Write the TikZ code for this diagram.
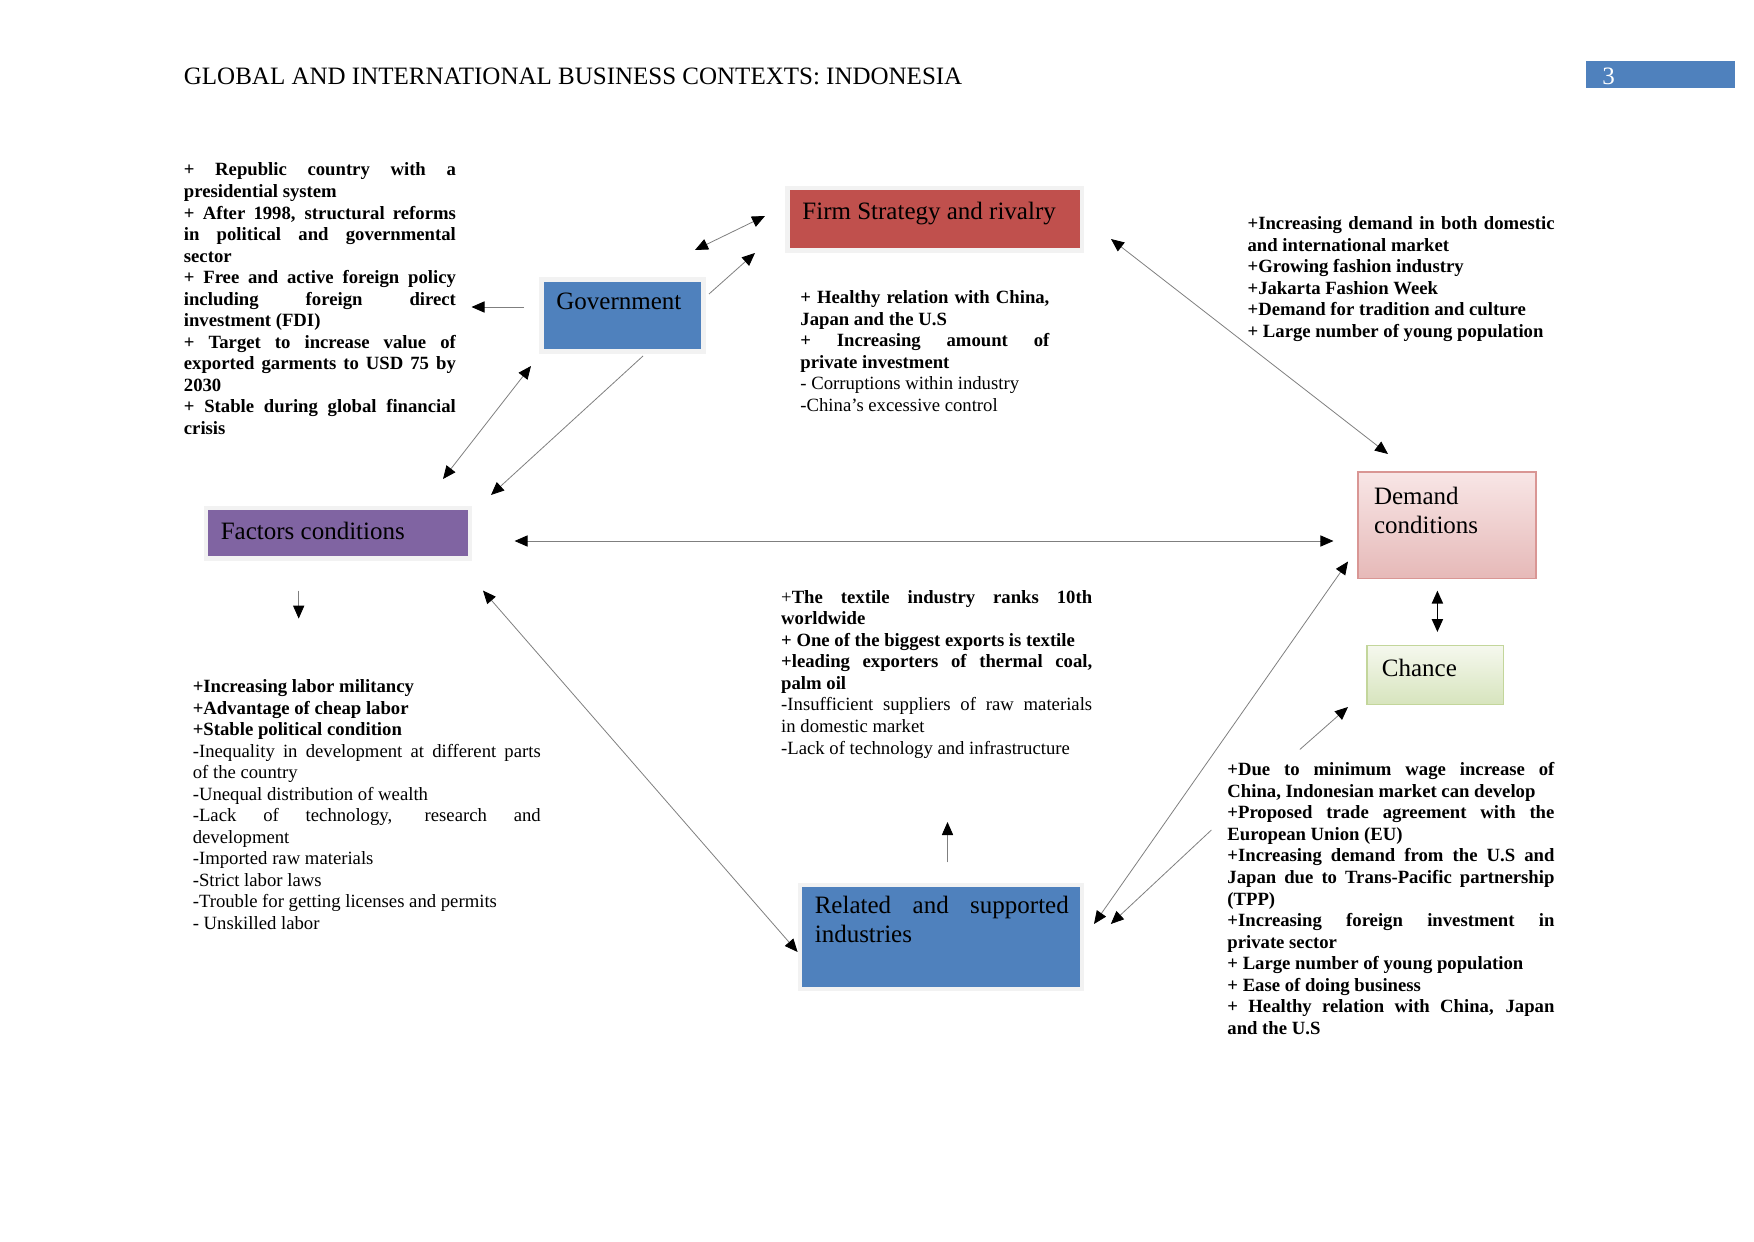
\documentclass[tikz,border=0pt]{standalone}
\usepackage{fontspec}
\setmainfont{Liberation Serif}
\usetikzlibrary{arrows.meta}
\definecolor{boxblue}{HTML}{4F81BD}
\definecolor{boxred}{HTML}{C0504D}
\definecolor{boxpurple}{HTML}{8064A2}
\definecolor{glowgray}{HTML}{F2F2F2}
\definecolor{pinkedge}{HTML}{D99694}
\definecolor{pinktop}{HTML}{F8E6E6}
\definecolor{pinkbot}{HTML}{E6B9B8}
\definecolor{greenedge}{HTML}{C3D69B}
\definecolor{greentop}{HTML}{F5F8EE}
\definecolor{greenbot}{HTML}{D7E4BD}
\definecolor{linkgray}{HTML}{7F7F7F}
\newcommand{\boxfont}{\fontsize{12.5}{14.5}\selectfont}
\newcommand{\notefont}{\fontsize{9.35}{10.77}\selectfont}
\hyphenpenalty=10000
\exhyphenpenalty=10000
\tikzset{
  glowbox/.style={rectangle, draw=glowgray, line width=2.25pt, inner sep=0pt},
  title/.style={anchor=north west, inner sep=0pt, font=\boxfont},
  note/.style={anchor=north west, inner sep=0pt, font=\notefont, align=justify},
  link/.style={draw=linkgray, line width=0.4pt, -{Triangle[length=6.5pt,width=5.6pt,color=black]}},
  twolink/.style={draw=linkgray, line width=0.4pt, {Triangle[length=6.5pt,width=5.6pt,color=black]}-{Triangle[length=6.5pt,width=5.6pt,color=black]}}
}
\begin{document}
\begin{tikzpicture}[x=0.5pt,y=-0.5pt]
\useasboundingbox (0,0) rectangle (1754,1241);
% running head
\node[anchor=base west, inner sep=0pt, font=\boxfont] (header) at (183.5,84.5) {GLOBAL AND INTERNATIONAL BUSINESS CONTEXTS: INDONESIA};
\fill[boxblue] (1586,61.5) rectangle (1735,88.4);
\node[anchor=base west, inner sep=0pt, font=\boxfont, text=white] (pagenum) at (1602,84.5) {3};

% diamond boxes
\node[glowbox, fill=boxred, minimum width=147.2pt, minimum height=31.3pt] (firm) at (934.6,219.25) {};
\node[title] (firmtitle) at (802,201.5) {Firm Strategy and rivalry};
\node[glowbox, fill=boxblue, minimum width=81.2pt, minimum height=35.8pt] (gov) at (622.5,315.45) {};
\node[title] (govtitle) at (556,292.5) {Government};
\node[glowbox, fill=boxpurple, minimum width=132pt, minimum height=25.25pt] (fac) at (337.8,533) {};
\node[title] (factitle) at (220.4,522.2) {Factors conditions};
\node[glowbox, fill=boxblue, minimum width=141pt, minimum height=52pt] (rel) at (940.75,936.8) {};
\node[title, text width=127pt, align=justify] (reltitle) at (814.4,896.2) {Related and supported \linebreak industries};
\node[rectangle, draw=pinkedge, line width=0.75pt, top color=pinktop, bottom color=pinkbot, minimum width=88.9pt, minimum height=53.2pt] (dem) at (1446.9,525.15) {};
\node[title, align=left] (demtitle) at (1373.6,486.7) {Demand\\conditions};
\node[rectangle, draw=greenedge, line width=0.75pt, top color=greentop, bottom color=greenbot, minimum width=68.2pt, minimum height=29.65pt] (chance) at (1435.2,675) {};
\node[title] (chancetitle) at (1381.5,659) {Chance};

% notes
\node[note, text width=136pt] (govnotes) at (183.5,162.6) {\bfseries
+ Republic country with a \linebreak presidential system\par
+ After 1998, structural reforms \linebreak in political and governmental \linebreak sector\par
+ Free and active foreign policy \linebreak including foreign direct \linebreak investment (FDI)\par
+ Target to increase value of \linebreak exported garments to USD 75 by \linebreak 2030\par
+ Stable during global financial \linebreak crisis};
\node[note, text width=124.5pt] (firmnotes) at (800,290.2) {\bfseries
+ Healthy relation with China, \linebreak Japan and the U.S\par
+ Increasing amount of \linebreak private investment\par
\mdseries - Corruptions within industry\par
-China’s excessive control};
\node[note, text width=153.5pt] (demnotes) at (1247.2,216.2) {\bfseries
+Increasing demand in both domestic \linebreak and international market\par
+Growing fashion industry\par
+Jakarta Fashion Week\par
+Demand for tradition and culture\par
+ Large number of young population};
\node[note, text width=155.5pt] (relnotes) at (780.8,589.9) {+\textbf{The textile industry ranks 10th} \linebreak \textbf{worldwide}\par
\bfseries + One of the biggest exports is textile\par
+leading exporters of thermal coal, \linebreak palm oil\par
\mdseries -Insufficient suppliers of raw materials \linebreak in domestic market\par
-Lack of technology and infrastructure};
\node[note, text width=174pt] (facnotes) at (192.4,679.2) {\bfseries
+Increasing labor militancy\par
+Advantage of cheap labor\par
+Stable political condition\par
\mdseries -Inequality in development at different parts \linebreak of the country\par
-Unequal distribution of wealth\par
-Lack of technology, research and \linebreak development\par
-Imported raw materials\par
-Strict labor laws\par
-Trouble for getting licenses and permits\par
- Unskilled labor};
\node[note, text width=163.5pt] (chancenotes) at (1227,762.2) {\bfseries
+Due to minimum wage increase of \linebreak China, Indonesian market can develop\par
+Proposed trade agreement with the \linebreak European Union (EU)\par
+Increasing demand from the U.S and \linebreak Japan due to Trans-Pacific partnership \linebreak (TPP)\par
+Increasing foreign investment in \linebreak private sector\par
+ Large number of young population\par
+ Ease of doing business\par
+ Healthy relation with China, Japan \linebreak and the U.S};

% connector ends
\coordinate (gov-nw) at (695,250);
\coordinate (firm-w) at (765,216);
\coordinate (gov-ne) at (709,294);
\coordinate (firm-sw) at (755,253);
\coordinate (gov-w) at (524,307);
\coordinate (govnotes-e) at (471.5,307);
\coordinate (gov-sw) at (531,366);
\coordinate (fac-n) at (443,479);
\coordinate (gov-s) at (643,356);
\coordinate (fac-ne) at (491,495);
\coordinate (firm-e) at (1111,239);
\coordinate (dem-nw) at (1388,454);
\coordinate (fac-e) at (514.6,541);
\coordinate (dem-w) at (1333.4,541);
\coordinate (fac-s) at (298.7,590.6);
\coordinate (facnotes-n) at (298.7,618.6);
\coordinate (fac-se) at (483,590.6);
\coordinate (rel-nw) at (797.6,952);
\coordinate (relnotes-s) at (947.5,862.4);
\coordinate (relnotes-n) at (947.5,822);
\coordinate (rel-e) at (1094,924);
\coordinate (dem-sw) at (1348,561.5);
\coordinate (chancenotes-w) at (1211.4,830);
\coordinate (rel-ne) at (1110.8,924);
\coordinate (chancenotes-n) at (1299.8,749.5);
\coordinate (chance-sw) at (1348,707);
\coordinate (dem-s) at (1437.4,590.6);
\coordinate (chance-n) at (1437.4,632);

\foreach \a/\b in {gov-nw/firm-w, gov-sw/fac-n, firm-e/dem-nw, fac-e/dem-w, fac-se/rel-nw, rel-e/dem-sw}
  \draw[twolink] (\a) -- (\b);
\foreach \a/\b in {gov-ne/firm-sw, gov-w/govnotes-e, gov-s/fac-ne, fac-s/facnotes-n, relnotes-s/relnotes-n, chancenotes-w/rel-ne, chancenotes-n/chance-sw}
  \draw[link] (\a) -- (\b);
\draw[twolink, draw=black, line width=0.8pt] (dem-s) -- (chance-n);
\end{tikzpicture}
\end{document}
